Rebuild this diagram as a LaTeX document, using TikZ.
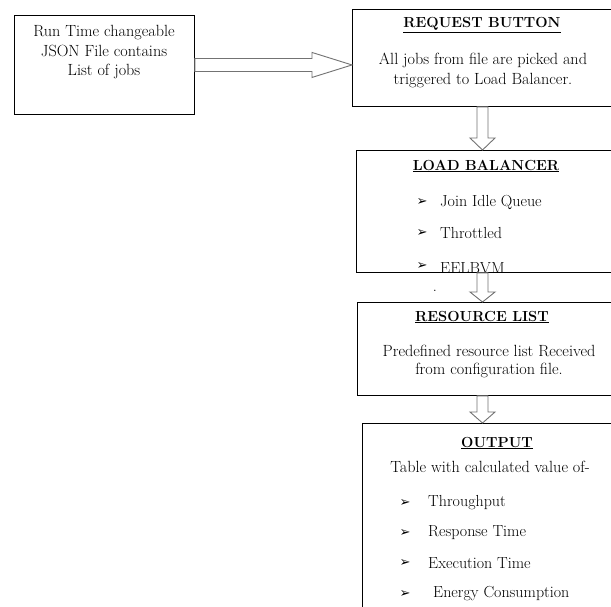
\documentclass[tikz,border=0pt]{standalone}
\usepackage{fontspec}
\newfontfamily\dvfont{DejaVu Sans}
\usetikzlibrary{calc}
\tikzset{
  box/.style={draw=black, line width=0.9pt, rectangle, inner sep=0pt, anchor=north west},
  txt/.style={font=\fontsize{16.2}{19.5}\selectfont, inner sep=0pt, align=center},
  ttl/.style={font=\fontsize{14.6}{17}\selectfont\bfseries, inner sep=0pt},
  itm/.style={font=\fontsize{16}{18}\selectfont, inner sep=0pt, anchor=west},
  bul/.style={font=\dvfont\fontsize{13}{14}\selectfont, inner sep=0pt},
  barrow/.style={draw=black!55, line width=0.9pt, fill=white, line join=miter},
}
\newcommand\hblock[2]{\draw[barrow] ($(#1)+(0,-6.5)$) -- ($(#2)+(-40,-6.5)$) -- ($(#2)+(-40,-12.5)$) -- (#2) -- ($(#2)+(-40,12.5)$) -- ($(#2)+(-40,6.5)$) -- ($(#1)+(0,6.5)$) -- cycle;}
\newcommand\vblock[3]{\draw[barrow] ($(#1)+(-5.5,0)$) -- ($(#2)+(-5.5,-#3)$) -- ($(#2)+(-12.5,-#3)$) -- (#2) -- ($(#2)+(12.5,-#3)$) -- ($(#2)+(5.5,-#3)$) -- ($(#1)+(5.5,0)$) -- cycle;}
\begin{document}
\begin{tikzpicture}[x=1pt,y=-1pt]
\useasboundingbox (0,0) rectangle (611,606);
\clip (0,0) rectangle (611,606);
\fill[white] (0,0) rectangle (611,606);

% boxes
\node[box, minimum width=180, minimum height=99] (src) at (14,15) {};
\node[box, minimum width=268, minimum height=97] (req) at (352,9) {};
\node[box, minimum width=264, minimum height=122] (lb) at (356,150) {};
\node[box, minimum width=263, minimum height=93] (res) at (357,302) {};
\node[box, minimum width=258, minimum height=200] (out) at (362,423) {};

% source box text
\node[txt] (srctxt) at (104,52.5) {Run Time changeable\\JSON File contains\\List of jobs};

% request box text
\node[ttl] (reqt) at (482,25) {\underline{REQUEST BUTTON}};
\node[txt, font=\fontsize{16.2}{20}\selectfont] (reqtxt) at (483,70) {All jobs from file are picked and\\triggered to Load Balancer.};

% load balancer text
\node[ttl] (lbt) at (486,166) {\underline{LOAD BALANCER}};
\node[bul] (lbb1) at (422,202) {➢};
\node[itm] (lbi1) at (440,202) {Join Idle Queue};
\node[bul] (lbb2) at (422,233) {➢};
\node[itm] (lbi2) at (440,233) {Throttled};
\begin{scope}
\clip (lb.north west) rectangle (lb.south east);
\node[bul] (lbb3) at (422,266) {➢};
\node[itm] (lbi3) at (440,268) {EELBVM};
\end{scope}

% resource list text
\node[ttl] (rest) at (482,317) {\underline{RESOURCE LIST}};
\node[txt, font=\fontsize{16.2}{18}\selectfont] (restxt) at (489,361) {Predefined resource list Received\\from configuration file.};

% output text
\node[ttl] (outt) at (497,443) {\underline{OUTPUT}};
\node[txt] (outtxt) at (490,467) {Table with calculated value of-};
\node[bul] (ob1) at (405,503) {➢};
\node[itm] (oi1) at (428,503) {Throughput};
\node[bul] (ob2) at (405,533) {➢};
\node[itm] (oi2) at (428,533) {Response Time};
\node[bul] (ob3) at (405,563) {➢};
\node[itm] (oi3) at (428,563) {Execution Time};
\node[bul] (ob4) at (405,594) {➢};
\node[itm] (oi4) at (433,594) {Energy Consumption};

% stray dot
\node[txt] (dot) at (435,291) {.};

% block arrows
\coordinate (ax) at (482.5,0);
\coordinate (a1s) at (src.east);
\coordinate (a1t) at (req.west |- src.east);
\coordinate (a2s) at (ax |- req.south);
\coordinate (a2t) at (ax |- lb.north);
\coordinate (a3s) at (ax |- lb.south);
\coordinate (a3t) at (ax |- res.north);
\coordinate (a4s) at (ax |- res.south);
\coordinate (a4t) at (ax |- out.north);
\hblock{a1s}{a1t}
\vblock{a2s}{a2t}{12}
\vblock{a3s}{a3t}{10}
\vblock{a4s}{a4t}{11}
\end{tikzpicture}
\end{document}
